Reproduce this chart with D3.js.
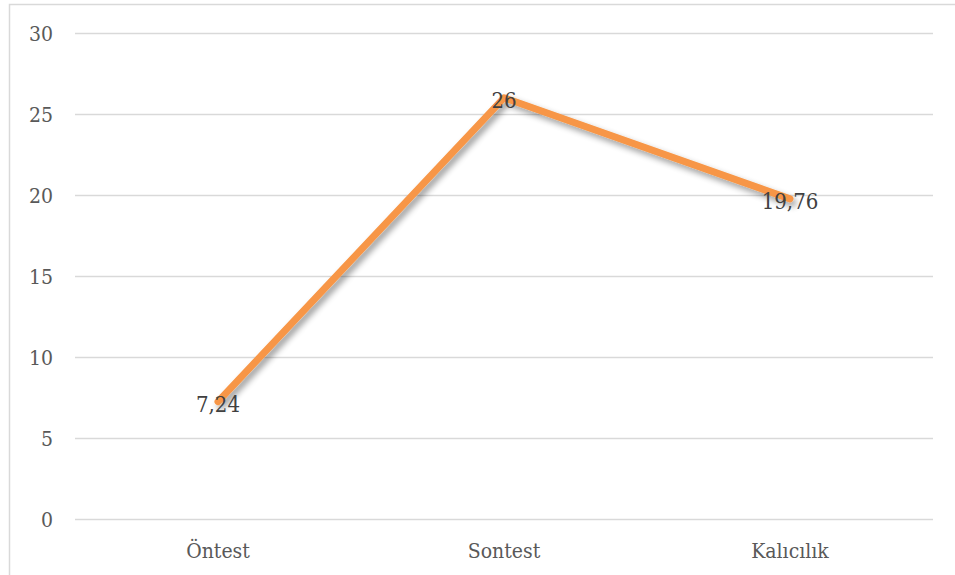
<!DOCTYPE html>
<html>
<head>
<meta charset="utf-8">
<script src="https://cdn.jsdelivr.net/npm/d3@7"></script>
<style>
  html, body { margin: 0; padding: 0; background: #fff; }
  svg { display: block; }
</style>
</head>
<body>
<svg id="chart" width="955" height="575"></svg>
<script>
// Mean scores for each test stage
const categories = ["Öntest", "Sontest", "Kalıcılık"];
const values = [7.24, 26, 19.76];
const valueLabels = ["7,24", "26", "19,76"];
const yTicks = [0, 5, 10, 15, 20, 25, 30];

const svg = d3.select("#chart");
const W = 955, H = 575;
const margin = { left: 75, right: 22, top: 33, bottom: 56 };
const fontFamily = "'DejaVu Serif Condensed', 'DejaVu Serif', serif";

// Chart area border
svg.append("rect")
  .attr("x", 9.5).attr("y", 4.5)
  .attr("width", 1000).attr("height", 700)
  .attr("fill", "#fff")
  .attr("stroke", "#d9d9d9").attr("stroke-width", 1.5);

const x = d3.scaleBand()
  .domain(categories)
  .range([margin.left, W - margin.right])
  .padding(0);

const y = d3.scaleLinear()
  .domain([0, 30])
  .range([H - margin.bottom, margin.top]);

// Horizontal gridlines
const yAxis = d3.axisLeft(y)
  .tickValues(yTicks)
  .tickSize(-(W - margin.right - margin.left))
  .tickPadding(22)
  .tickFormat(d3.format("d"));

const gy = svg.append("g")
  .attr("transform", `translate(${margin.left},0)`)
  .call(yAxis);
gy.select(".domain").remove();
gy.selectAll(".tick line")
  .attr("stroke", "#d9d9d9").attr("stroke-width", 1.5);
gy.selectAll(".tick text")
  .attr("fill", "#595959")
  .attr("dy", "0.36em")
  .style("font-family", fontFamily)
  .style("font-stretch", "condensed")
  .style("font-size", "21px");

// Category axis
const xAxis = d3.axisBottom(x).tickSize(0).tickPadding(24);
const gx = svg.append("g")
  .attr("transform", `translate(0,${y(0)})`)
  .call(xAxis);
gx.select(".domain").remove();
gx.selectAll(".tick text")
  .attr("fill", "#595959")
  .style("font-family", fontFamily)
  .style("font-stretch", "condensed")
  .style("font-size", "21px");

// Soft drop shadow under the line
const defs = svg.append("defs");
const f = defs.append("filter").attr("id", "shadow")
  .attr("x", "-10%").attr("y", "-10%").attr("width", "130%").attr("height", "130%");
f.append("feGaussianBlur").attr("in", "SourceAlpha").attr("stdDeviation", 3).attr("result", "blur");
f.append("feOffset").attr("in", "blur").attr("dx", 3).attr("dy", 4).attr("result", "off");
f.append("feComponentTransfer").attr("in", "off").attr("result", "shadowA")
  .append("feFuncA").attr("type", "linear").attr("slope", 0.4);
const merge = f.append("feMerge");
merge.append("feMergeNode").attr("in", "shadowA");
merge.append("feMergeNode").attr("in", "SourceGraphic");

const data = categories.map((c, i) => ({ c, v: values[i], label: valueLabels[i] }));
const line = d3.line()
  .x(d => x(d.c) + x.bandwidth() / 2)
  .y(d => y(d.v));

svg.append("path")
  .datum(data)
  .attr("d", line)
  .attr("fill", "none")
  .attr("stroke", "#f79646")
  .attr("stroke-width", 7)
  .attr("stroke-linecap", "round")
  .attr("stroke-linejoin", "round")
  .attr("filter", "url(#shadow)");

// Value labels centred on each point
svg.append("g").selectAll("text")
  .data(data)
  .join("text")
  .attr("x", d => x(d.c) + x.bandwidth() / 2)
  .attr("y", d => y(d.v))
  .attr("dy", "0.45em")
  .attr("text-anchor", "middle")
  .attr("fill", "#404040")
  .style("font-family", fontFamily)
  .style("font-stretch", "condensed")
  .style("font-size", "22px")
  .text(d => d.label);
</script>
</body>
</html>
